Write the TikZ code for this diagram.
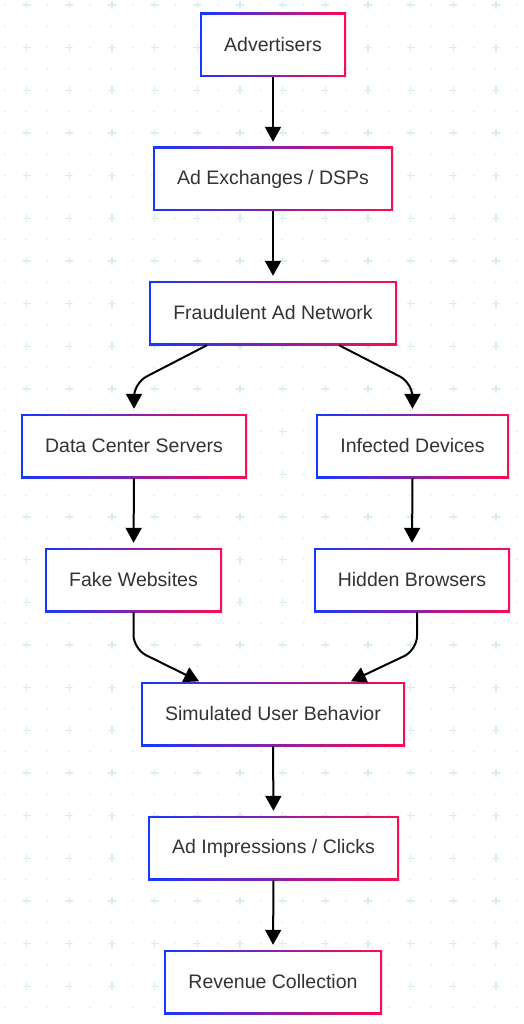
\documentclass[tikz,border=0pt]{standalone}
\usepackage{fontspec}
\setmainfont{Liberation Sans}
\usetikzlibrary{arrows.meta}
\definecolor{gblue}{RGB}{20,56,255}
\definecolor{gred}{RGB}{255,10,80}
\definecolor{txtgray}{RGB}{51,51,51}
\definecolor{patcol}{RGB}{214,237,242}
\tikzset{
  fbox/.style={rectangle, minimum height=64pt, inner sep=0pt,
    left color=gblue, right color=gred, text=txtgray,
    font=\fontsize{19.5}{23}\selectfont,
    path picture={\fill[white] ([shift={(2pt,-2pt)}]path picture bounding box.north west) rectangle ([shift={(-2pt,2pt)}]path picture bounding box.south east);}},
  arr/.style={draw=black, line width=2pt, -{Triangle[length=15pt,width=16pt]}},
}
\begin{document}
\begin{tikzpicture}[x=1pt,y=-1pt]
\useasboundingbox (0,0) rectangle (524,1024);
\fill[white] (0,0) rectangle (524,1024);
\foreach \i in {0,...,24}{
  \foreach \j in {0,...,47}{
    \fill[patcol] ({5+21.333*\i},{5+21.333*\j}) circle (1pt);
  }
}
\foreach \a in {0,...,11}{
  \foreach \b in {0,...,23}{
    \draw[patcol, line width=1.2pt] ({26.667+42.667*\a-4},{5+42.667*\b}) -- ++(8,0)
      ({26.667+42.667*\a},{5+42.667*\b-4}) -- ++(0,8);
  }
}
\node[fbox, minimum width=146pt] (n1) at (273,45) {Advertisers};
\node[fbox, minimum width=240pt] (n2) at (273,179) {Ad Exchanges / DSPs};
\node[fbox, minimum width=248pt] (n3) at (273,313) {Fraudulent Ad Network};
\node[fbox, minimum width=226pt] (n4) at (134,446) {Data Center Servers};
\node[fbox, minimum width=193pt] (n5) at (412.5,446) {Infected Devices};
\node[fbox, minimum width=177pt] (n6) at (133.5,580) {Fake Websites};
\node[fbox, minimum width=196pt] (n7) at (412,580) {Hidden Browsers};
\node[fbox, minimum width=264pt] (n8) at (273,714) {Simulated User Behavior};
\node[fbox, minimum width=251pt] (n9) at (273.5,848) {Ad Impressions / Clicks};
\node[fbox, minimum width=218pt] (n10) at (273,982) {Revenue Collection};

\draw[arr, shorten >=5pt] (n1.south) -- (n2.north);
\draw[arr, shorten >=5pt] (n2.south) -- (n3.north);
\draw[arr, shorten >=5pt, rounded corners=14pt] ([xshift=-66pt]n3.south) -- (n4.north |- 0,383) -- (n4.north);
\draw[arr, shorten >=5pt, rounded corners=14pt] ([xshift=66pt]n3.south) -- (n5.north |- 0,383) -- (n5.north);
\draw[arr, shorten >=5pt] (n4.south) -- (n6.north);
\draw[arr, shorten >=5pt] (n5.south) -- (n7.north);
\draw[arr, shorten >=1pt, rounded corners=14pt] (n6.south) -- (n6.south |- 0,649) -- ([xshift=-73pt]n8.north);
\draw[arr, shorten >=1pt, rounded corners=14pt] ([xshift=5pt]n7.south) -- ([xshift=5pt]n7.south |- 0,650) -- ([xshift=77pt]n8.north);
\draw[arr, shorten >=5pt] (n8.south) -- (n9.north);
\draw[arr, shorten >=5pt] (n9.south) -- (n10.north);
\end{tikzpicture}
\end{document}
